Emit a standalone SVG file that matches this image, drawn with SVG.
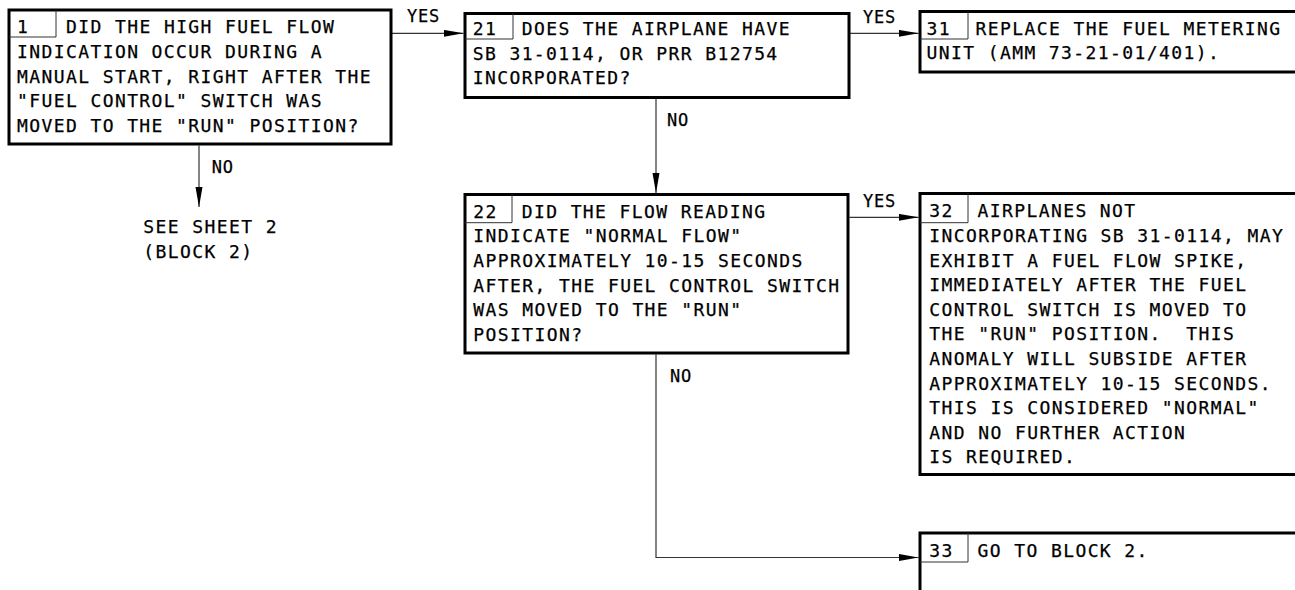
<svg xmlns="http://www.w3.org/2000/svg" width="1295" height="590" viewBox="0 0 1295 590">
<style>
.box{fill:#fff;stroke:#000;stroke-width:3}
.cell{fill:none;stroke:#333;stroke-width:1}
.t{font-family:"DejaVu Sans Mono","Liberation Mono",monospace;font-size:18px;letter-spacing:1.4px;fill:#000;stroke:#000;stroke-width:0.25}
.lbl{font-family:"DejaVu Sans Mono","Liberation Mono",monospace;font-size:17px;letter-spacing:0.8px;fill:#000;stroke:#000;stroke-width:0.25}
.con{fill:none;stroke:#333;stroke-width:1.2}
</style>
<defs>
<marker id="ah" markerUnits="userSpaceOnUse" markerWidth="20" markerHeight="8" refX="20" refY="3.5" orient="auto">
<path d="M0,0 L20,3.5 L0,7 z" fill="#000"/>
</marker>
</defs>
<rect width="1295" height="590" fill="#fff"/>
<g id="connectors">
<path class="con" d="M392,33.3 H463.5" marker-end="url(#ah)"/>
<path class="con" d="M850,33.3 H918.5" marker-end="url(#ah)"/>
<path class="con" d="M199,145.5 V207" marker-end="url(#ah)"/>
<path class="con" d="M656,99 V193" marker-end="url(#ah)"/>
<path class="con" d="M849.5,217.3 H918.5" marker-end="url(#ah)"/>
<path class="con" d="M656,354.5 V557.5 H918.5" marker-end="url(#ah)"/>
<text class="lbl" x="407" y="21.5">YES</text>
<text class="lbl" x="863" y="22.5">YES</text>
<text class="lbl" x="863" y="206.7">YES</text>
<text class="lbl" x="211.7" y="173.3">NO</text>
<text class="lbl" x="667" y="126">NO</text>
<text class="lbl" x="670" y="381.7">NO</text>
</g>
<g id="node1">
<rect class="box" x="9" y="10" width="382" height="134"/>
<path class="cell" d="M9,37 H56 V10"/>
<text class="t" x="17" y="33.3">1</text>
<text class="t" x="66" y="33.3">DID THE HIGH FUEL FLOW</text>
<text class="t" x="17" y="57.9">INDICATION OCCUR DURING A</text>
<text class="t" x="17" y="82.5">MANUAL START, RIGHT AFTER THE</text>
<text class="t" x="17" y="107.1">"FUEL CONTROL" SWITCH WAS</text>
<text class="t" x="17" y="131.7">MOVED TO THE "RUN" POSITION?</text>
</g>
<g id="sheet2">
<text class="t" x="143.3" y="233.3">SEE SHEET 2</text>
<text class="t" x="143.3" y="258">(BLOCK 2)</text>
</g>
<g id="node21">
<rect class="box" x="465" y="13.5" width="384" height="84"/>
<path class="cell" d="M465,39 H513 V13.5"/>
<text class="t" x="472.7" y="35">21</text>
<text class="t" x="521.7" y="35">DOES THE AIRPLANE HAVE</text>
<text class="t" x="472.7" y="59.6">SB 31-0114, OR PRR B12754</text>
<text class="t" x="472.7" y="84.2">INCORPORATED?</text>
</g>
<g id="node31">
<rect class="box" x="920" y="11.5" width="400" height="60.5"/>
<path class="cell" d="M920,39 H968 V11.5"/>
<text class="t" x="926.5" y="34.5">31</text>
<text class="t" x="975.5" y="34.5">REPLACE THE FUEL METERING</text>
<text class="t" x="926.5" y="59.3">UNIT (AMM 73-21-01/401).</text>
</g>
<g id="node22">
<rect class="box" x="465" y="194.5" width="383" height="158.5"/>
<path class="cell" d="M465,222.7 H512 V194.5"/>
<text class="t" x="473.3" y="217.7">22</text>
<text class="t" x="521.7" y="217.7">DID THE FLOW READING</text>
<text class="t" x="473.3" y="242.3">INDICATE "NORMAL FLOW"</text>
<text class="t" x="473.3" y="266.9">APPROXIMATELY 10-15 SECONDS</text>
<text class="t" x="473.3" y="291.5">AFTER, THE FUEL CONTROL SWITCH</text>
<text class="t" x="473.3" y="316.1">WAS MOVED TO THE "RUN"</text>
<text class="t" x="473.3" y="340.7">POSITION?</text>
</g>
<g id="node32">
<rect class="box" x="920" y="193.5" width="400" height="281"/>
<path class="cell" d="M920,222.7 H968 V193.5"/>
<text class="t" x="929.3" y="217.3">32</text>
<text class="t" x="977.5" y="217.3">AIRPLANES NOT</text>
<text class="t" x="929.3" y="241.9">INCORPORATING SB 31-0114, MAY</text>
<text class="t" x="929.3" y="266.5">EXHIBIT A FUEL FLOW SPIKE,</text>
<text class="t" x="929.3" y="291.1">IMMEDIATELY AFTER THE FUEL</text>
<text class="t" x="929.3" y="315.7">CONTROL SWITCH IS MOVED TO</text>
<text class="t" x="929.3" y="340.3" xml:space="preserve">THE "RUN" POSITION.  THIS</text>
<text class="t" x="929.3" y="364.9">ANOMALY WILL SUBSIDE AFTER</text>
<text class="t" x="929.3" y="389.5">APPROXIMATELY 10-15 SECONDS.</text>
<text class="t" x="929.3" y="414.1">THIS IS CONSIDERED "NORMAL"</text>
<text class="t" x="929.3" y="438.7">AND NO FURTHER ACTION</text>
<text class="t" x="929.3" y="463.3">IS REQUIRED.</text>
</g>
<g id="node33">
<rect class="box" x="920" y="533" width="400" height="80"/>
<path class="cell" d="M920,562 H968 V533"/>
<text class="t" x="929.3" y="557.3">33</text>
<text class="t" x="977.5" y="557.3">GO TO BLOCK 2.</text>
</g>
</svg>
